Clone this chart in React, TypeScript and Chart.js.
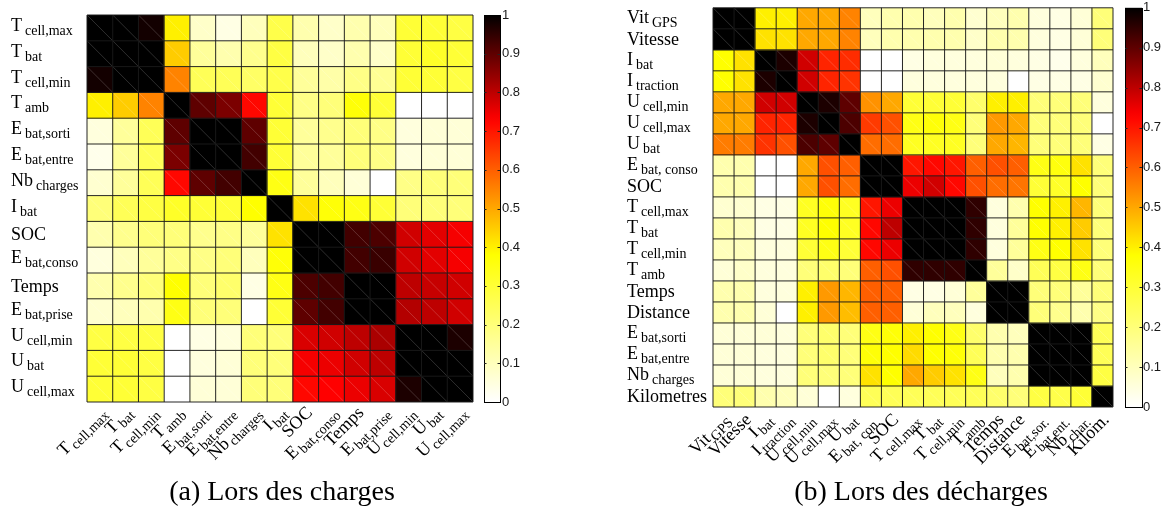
import React, { useEffect, useRef } from 'react';
import { Chart, registerables } from 'chart.js';
Chart.register(...registerables);

// ---------- DATA ----------
const chargesLabels = ['T_cell,max', 'T_bat', 'T_cell,min', 'T_amb', 'E_bat,sorti', 'E_bat,entre', 'Nb_charges', 'I_bat', 'SOC', 'E_bat,conso', 'Temps', 'E_bat,prise', 'U_cell,min', 'U_bat', 'U_cell,max'];

const chargesMatrix = [
  [1, 1, 0.98, 0.4, 0.08, 0.04, 0.1, 0.27, 0.12, 0.08, 0.12, 0.1, 0.3, 0.3, 0.28],
  [1, 1, 1, 0.45, 0.15, 0.12, 0.17, 0.28, 0.1, 0.08, 0.12, 0.08, 0.3, 0.32, 0.3],
  [0.98, 1, 1, 0.55, 0.25, 0.25, 0.23, 0.27, 0.15, 0.13, 0.18, 0.16, 0.3, 0.3, 0.28],
  [0.4, 0.45, 0.55, 1, 0.9, 0.87, 0.72, 0.3, 0.18, 0.2, 0.37, 0.3, 0, 0, 0],
  [0.05, 0.15, 0.25, 0.9, 1, 1, 0.9, 0.3, 0.15, 0.17, 0.2, 0.18, 0.05, 0.06, 0.06],
  [0.03, 0.15, 0.25, 0.87, 1, 1, 0.93, 0.3, 0.15, 0.15, 0.2, 0.18, 0.05, 0.06, 0.06],
  [0.07, 0.15, 0.25, 0.72, 0.9, 0.93, 1, 0.35, 0.15, 0.1, 0.06, 0, 0.18, 0.2, 0.2],
  [0.2, 0.25, 0.28, 0.32, 0.3, 0.3, 0.38, 1, 0.42, 0.37, 0.35, 0.3, 0.2, 0.2, 0.2],
  [0.12, 0.17, 0.2, 0.2, 0.17, 0.18, 0.15, 0.42, 1, 1, 0.93, 0.92, 0.78, 0.76, 0.74],
  [0.05, 0.1, 0.15, 0.18, 0.18, 0.2, 0.1, 0.37, 1, 1, 0.93, 0.94, 0.78, 0.76, 0.74],
  [0.12, 0.17, 0.2, 0.38, 0.2, 0.22, 0.04, 0.35, 0.92, 0.93, 1, 1, 0.8, 0.79, 0.78],
  [0.07, 0.1, 0.12, 0.35, 0.2, 0.2, 0, 0.3, 0.9, 0.93, 1, 1, 0.81, 0.8, 0.78],
  [0.28, 0.28, 0.28, 0, 0.04, 0.05, 0.2, 0.2, 0.77, 0.78, 0.8, 0.82, 1, 1, 0.97],
  [0.3, 0.3, 0.28, 0, 0.05, 0.06, 0.2, 0.2, 0.74, 0.75, 0.78, 0.8, 1, 1, 1],
  [0.3, 0.3, 0.28, 0, 0.06, 0.06, 0.2, 0.2, 0.72, 0.73, 0.75, 0.77, 0.97, 1, 1],
];

const dechargesRowLabels = ['Vit_GPS', 'Vitesse', 'I_bat', 'I_traction', 'U_cell,min', 'U_cell,max', 'U_bat', 'E_bat, conso', 'SOC', 'T_cell,max', 'T_bat', 'T_cell,min', 'T_amb', 'Temps', 'Distance', 'E_bat,sorti', 'E_bat,entre', 'Nb_charges', 'Kilometres'];
const dechargesColLabels = ['Vit_GPS', 'Vitesse', 'I_bat', 'I_traction', 'U_cell,min', 'U_cell,max', 'U_bat', 'E_bat, con.', 'SOC', 'T_cell,max', 'T_bat', 'T_cell,min', 'T_amb', 'Temps', 'Distance', 'E_bat,sor.', 'E_bat,ent.', 'Nb_char.', 'Kilom.'];

const dechargesMatrix = [
  [1, 1, 0.4, 0.4, 0.5, 0.5, 0.55, 0.1, 0.12, 0.12, 0.1, 0.12, 0.07, 0.1, 0.12, 0.05, 0.04, 0.06, 0.2],
  [1, 1, 0.42, 0.42, 0.5, 0.5, 0.55, 0.1, 0.12, 0.12, 0.12, 0.12, 0.08, 0.12, 0.12, 0.05, 0.04, 0.06, 0.2],
  [0.38, 0.42, 1, 0.97, 0.78, 0.68, 0.67, 0, 0, 0.04, 0.05, 0.05, 0.05, 0.06, 0.05, 0.04, 0.03, 0.05, 0.1],
  [0.38, 0.42, 0.97, 1, 0.78, 0.68, 0.66, 0, 0, 0.05, 0.05, 0.05, 0.05, 0.05, 0, 0.04, 0.04, 0.04, 0.07],
  [0.5, 0.5, 0.78, 0.78, 1, 0.97, 0.9, 0.53, 0.5, 0.3, 0.3, 0.3, 0.22, 0.4, 0.4, 0.2, 0.2, 0.2, 0.05],
  [0.5, 0.5, 0.68, 0.68, 0.97, 1, 0.92, 0.65, 0.62, 0.35, 0.37, 0.35, 0.2, 0.52, 0.5, 0.2, 0.2, 0.2, 0],
  [0.56, 0.56, 0.66, 0.62, 0.92, 0.9, 1, 0.58, 0.58, 0.33, 0.33, 0.33, 0.2, 0.5, 0.48, 0.2, 0.2, 0.2, 0.04],
  [0.12, 0.12, 0, 0, 0.5, 0.62, 0.6, 1, 1, 0.7, 0.72, 0.7, 0.6, 0.62, 0.6, 0.35, 0.36, 0.42, 0.2],
  [0.12, 0.12, 0, 0, 0.5, 0.62, 0.58, 1, 1, 0.75, 0.78, 0.72, 0.62, 0.58, 0.57, 0.3, 0.32, 0.38, 0.2],
  [0.07, 0.07, 0.04, 0.04, 0.33, 0.37, 0.33, 0.7, 0.75, 1, 1, 1, 0.95, 0.05, 0.12, 0.38, 0.4, 0.48, 0.2],
  [0.12, 0.1, 0.04, 0.04, 0.33, 0.38, 0.33, 0.72, 0.8, 1, 1, 1, 0.95, 0.05, 0.15, 0.38, 0.4, 0.45, 0.2],
  [0.1, 0.1, 0.05, 0.05, 0.3, 0.35, 0.3, 0.72, 0.75, 1, 1, 1, 0.95, 0.05, 0.15, 0.35, 0.38, 0.42, 0.2],
  [0.06, 0.08, 0.05, 0.05, 0.2, 0.22, 0.2, 0.6, 0.62, 0.95, 0.95, 0.95, 1, 0.15, 0.08, 0.25, 0.28, 0.35, 0.2],
  [0.12, 0.12, 0.05, 0.05, 0.4, 0.52, 0.48, 0.6, 0.6, 0.04, 0.04, 0.06, 0.15, 1, 1, 0.2, 0.2, 0.15, 0.2],
  [0.12, 0.12, 0.06, 0, 0.4, 0.52, 0.47, 0.6, 0.6, 0.06, 0.1, 0.1, 0.05, 1, 1, 0.2, 0.17, 0.12, 0.18],
  [0.06, 0.06, 0.06, 0.05, 0.2, 0.22, 0.2, 0.35, 0.37, 0.4, 0.38, 0.35, 0.22, 0.12, 0.1, 1, 1, 1, 0.25],
  [0.06, 0.06, 0.05, 0.05, 0.2, 0.22, 0.2, 0.37, 0.38, 0.43, 0.38, 0.37, 0.25, 0.12, 0.12, 1, 1, 1, 0.25],
  [0.06, 0.06, 0.05, 0.05, 0.2, 0.2, 0.2, 0.42, 0.38, 0.5, 0.45, 0.42, 0.35, 0.1, 0.12, 1, 1, 1, 0.28],
  [0.2, 0.2, 0.12, 0.1, 0.06, 0, 0.05, 0.25, 0.25, 0.25, 0.25, 0.25, 0.25, 0.22, 0.2, 0.28, 0.27, 0.3, 1],
];

const colorbarTicks = [0, 0.1, 0.2, 0.3, 0.4, 0.5, 0.6, 0.7, 0.8, 0.9, 1];

const captionA = '(a) Lors des charges';
const captionB = '(b) Lors des décharges';

// ---------- COLOUR MAP (reversed "hot") ----------
const mapStops: [number, number[]][] = [
  [0, [255, 255, 255]],
  [0.38, [255, 255, 0]],
  [0.73, [255, 0, 0]],
  [1, [0, 0, 0]],
];
function heat(v: number): string {
  const t = Math.max(0, Math.min(1, v));
  for (let i = 1; i < mapStops.length; i++) {
    const [t1, c1] = mapStops[i];
    const [t0, c0] = mapStops[i - 1];
    if (t <= t1) {
      const f = (t - t0) / (t1 - t0);
      const c = c0.map((a, k) => Math.round(a + (c1[k] - a) * f));
      return `rgb(${c[0]},${c[1]},${c[2]})`;
    }
  }
  return 'rgb(0,0,0)';
}

const SERIF = '"Liberation Serif", "Times New Roman", serif';

function splitLabel(s: string): [string, string] {
  const i = s.indexOf('_');
  if (i < 0) return [s, ''];
  return [s.slice(0, i), s.slice(i + 1)];
}

function drawLabel(ctx: CanvasRenderingContext2D, label: string, x: number, baseline: number, align: 'left' | 'right', mainSize: number, subSize: number, gap: number, drop: number) {
  const [main, sub] = splitLabel(label);
  ctx.font = `${mainSize}px ${SERIF}`;
  const wm = ctx.measureText(main).width;
  ctx.font = `${subSize}px ${SERIF}`;
  const ws = sub ? ctx.measureText(sub).width : 0;
  const total = wm + (sub ? gap + ws : 0);
  const x0 = align === 'left' ? x : x - total;
  ctx.textAlign = 'left';
  ctx.textBaseline = 'alphabetic';
  ctx.font = `${mainSize}px ${SERIF}`;
  ctx.fillText(main, x0, baseline);
  if (sub) {
    ctx.font = `${subSize}px ${SERIF}`;
    ctx.fillText(sub, x0 + wm + gap, baseline + drop);
  }
}

const decoPlugin = {
  id: 'heatDeco',
  afterDatasetsDraw(chart: any, _args: any, opts: any) {
    const ctx: CanvasRenderingContext2D = chart.ctx;
    const xs = chart.scales.x;
    const ys = chart.scales.y;
    const cb = chart.scales.cb;
    const n: number = opts.n;
    const cw = xs.getPixelForValue(1) - xs.getPixelForValue(0);
    const xb = (c: number) => xs.getPixelForValue(0) - cw / 2 + c * cw;
    const yb = (r: number) => ys.getPixelForValue(r);
    ctx.save();
    // faint diagonals
    ctx.strokeStyle = 'rgba(255,255,255,0.3)';
    ctx.lineWidth = 0.6;
    for (let r = 0; r < n; r++) {
      for (let c = 0; c < n; c++) {
        ctx.beginPath();
        ctx.moveTo(xb(c), yb(r));
        ctx.lineTo(xb(c + 1), yb(r + 1));
        ctx.stroke();
      }
    }
    // grid
    ctx.strokeStyle = 'rgba(25,25,25,0.95)';
    ctx.lineWidth = 1;
    for (let i = 0; i <= n; i++) {
      ctx.beginPath();
      ctx.moveTo(xb(i), yb(0));
      ctx.lineTo(xb(i), yb(n));
      ctx.stroke();
      ctx.beginPath();
      ctx.moveTo(xb(0), yb(i));
      ctx.lineTo(xb(n), yb(i));
      ctx.stroke();
    }
    // colorbar
    const bx = cb.left + opts.cbGap;
    const bw = opts.cbW;
    const yTop = cb.getPixelForValue(1);
    const yBot = cb.getPixelForValue(0);
    const g = ctx.createLinearGradient(0, yBot, 0, yTop);
    for (let k = 0; k <= 50; k++) g.addColorStop(k / 50, heat(k / 50));
    ctx.fillStyle = g;
    ctx.fillRect(bx, yTop, bw, yBot - yTop);
    ctx.strokeStyle = '#000';
    ctx.lineWidth = 1;
    ctx.strokeRect(Math.round(bx) + 0.5, Math.round(yTop) + 0.5, bw, Math.round(yBot - yTop));
    ctx.strokeStyle = '#222';
    for (const v of colorbarTicks) {
      if (v === 0 || v === 1) continue;
      const y = Math.round(cb.getPixelForValue(v)) + 0.5;
      ctx.beginPath();
      ctx.moveTo(bx, y); ctx.lineTo(bx + 2.5, y);
      ctx.moveTo(bx + bw - 2.5, y); ctx.lineTo(bx + bw, y);
      ctx.stroke();
    }
    // labels
    ctx.fillStyle = '#000';
    const rowLabels: string[] = opts.rowLabels;
    const colLabels: string[] = opts.colLabels;
    rowLabels.forEach((lab, r) => {
      const yc = ys.getPixelForValue(r + 0.5);
      const hasSub = lab.indexOf('_') >= 0;
      drawLabel(ctx, lab, opts.yLabelX, yc + 6 - (hasSub ? opts.subLift : 0), 'left', opts.mainSize, opts.subSize, opts.gap, 4);
    });
    colLabels.forEach((lab, c) => {
      const xc = xs.getPixelForValue(c);
      ctx.save();
      ctx.translate(xc + opts.xdx, chart.chartArea.bottom + opts.xdy);
      ctx.rotate(-Math.PI / 4);
      drawLabel(ctx, lab, 0, 12, 'right', opts.mainSize, opts.subSize, opts.gap - 1, 4);
      ctx.restore();
    });
    ctx.restore();
  },
};

interface PanelProps {
  width: number;
  height: number;
  left: number;
  rowLabels: string[];
  colLabels: string[];
  matrix: number[][];
  padding: { left: number; top: number; right: number; bottom: number };
  cbWidth: number;
  cbGap: number;
  cbW: number;
  cbPad: number;
  yLabelX: number;
  xdx: number;
  xdy: number;
  subLift: number;
}

function HeatPanel(p: PanelProps) {
  const ref = useRef<HTMLCanvasElement>(null);
  useEffect(() => {
    if (!ref.current) return;
    const n = p.rowLabels.length;
    const chart = new Chart(ref.current, {
      type: 'bar',
      data: {
        labels: p.colLabels,
        datasets: p.matrix.map((row) => ({
          data: row.map(() => 1),
          backgroundColor: row.map(heat),
          borderWidth: 0,
          barPercentage: 1,
          categoryPercentage: 1,
        })),
      },
      options: {
        animation: false,
        responsive: false,
        maintainAspectRatio: false,
        devicePixelRatio: 1,
        layout: { padding: p.padding },
        plugins: {
          legend: { display: false },
          tooltip: { enabled: false },
          heatDeco: {
            n,
            rowLabels: p.rowLabels,
            colLabels: p.colLabels,
            cbGap: p.cbGap,
            cbW: p.cbW,
            yLabelX: p.yLabelX,
            xdx: p.xdx,
            xdy: p.xdy,
            subLift: p.subLift,
            mainSize: 18,
            subSize: 14,
            gap: 3,
          },
        } as any,
        scales: {
          x: { display: false, stacked: true },
          y: { display: false, stacked: true, min: 0, max: n, reverse: true },
          cb: {
            type: 'linear',
            position: 'right',
            display: true,
            min: 0,
            max: 1,
            grid: { drawOnChartArea: false, drawTicks: true, tickLength: p.cbPad, color: 'rgba(0,0,0,0)' },
            border: { display: false },
            ticks: {
              stepSize: 0.1,
              padding: 0,
              color: '#1a1a1a',
              font: { family: '"Liberation Sans", Arial, sans-serif', size: 13 },
              callback: (v: any) => String(Number(Number(v).toFixed(1))),
            },
            afterFit: (s: any) => { s.width = p.cbWidth; },
          } as any,
        },
      },
      plugins: [decoPlugin as any],
    });
    return () => chart.destroy();
  }, []);
  return (
    <canvas
      ref={ref}
      width={p.width}
      height={p.height}
      style={{ position: 'absolute', left: p.left, top: 0, width: p.width, height: p.height }}
    />
  );
}

export default function App() {
  const captionStyle: React.CSSProperties = {
    position: 'absolute',
    top: 477,
    fontFamily: SERIF,
    fontSize: 28,
    lineHeight: '28px',
    textAlign: 'center',
    color: '#000',
    whiteSpace: 'nowrap',
  };
  return (
    <div style={{ position: 'absolute', left: 0, top: 0, width: 1165, height: 511, background: '#fff', overflow: 'hidden' }}>
      <HeatPanel
        width={560}
        height={511}
        left={0}
        rowLabels={chargesLabels}
        colLabels={chargesLabels}
        matrix={chargesMatrix}
        padding={{ left: 87, top: 15, right: 17, bottom: 109 }}
        cbWidth={70}
        cbGap={11}
        cbW={16}
        cbPad={29}
        yLabelX={11}
        xdx={-1}
        xdy={3}
        subLift={3}
      />
      <HeatPanel
        width={605}
        height={511}
        left={560}
        rowLabels={dechargesRowLabels}
        colLabels={dechargesColLabels}
        matrix={dechargesMatrix}
        padding={{ left: 153, top: 7, right: 0, bottom: 104 }}
        cbWidth={52}
        cbGap={12}
        cbW={17}
        cbPad={30}
        yLabelX={67}
        xdx={-1}
        xdy={5}
        subLift={1}
      />
      <div style={{ ...captionStyle, left: 132, width: 300 }}>{captionA}</div>
      <div style={{ ...captionStyle, left: 771, width: 300 }}>{captionB}</div>
    </div>
  );
}
